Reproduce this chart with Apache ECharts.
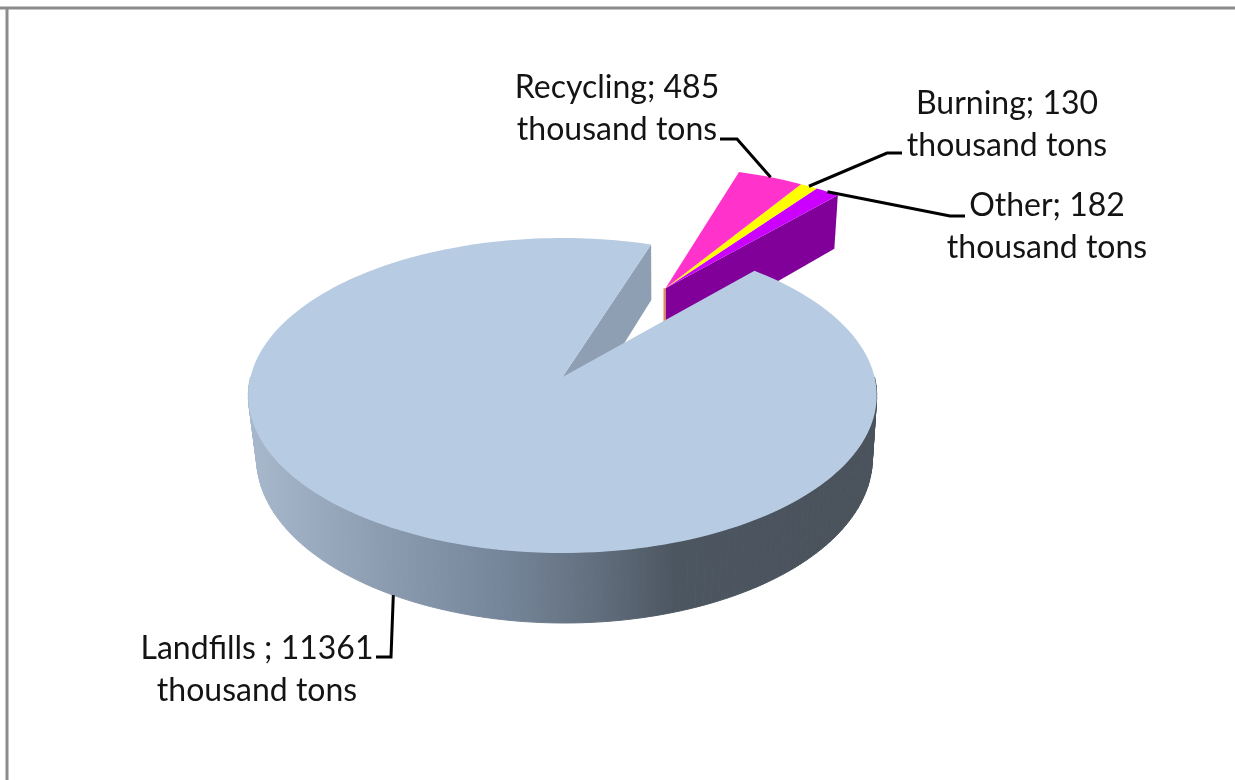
<!DOCTYPE html>
<html>
<head>
<meta charset="utf-8">
<style>html,body{margin:0;padding:0;background:#fff}#c{width:1235px;height:780px}</style>
<script src="https://cdn.jsdelivr.net/npm/echarts@6/dist/echarts.min.js"></script>
</head>
<body>
<div id="c"></div>
<script>
// Data
const categories = ['Landfills', 'Recycling', 'Burning', 'Other'];
const separators = [' ; ', '; ', '; ', '; '];
const values = [11361, 485, 130, 182];
const unit = 'thousand tons';

// Styling
const topColors = ['#b7cbe3', '#ff33cc', '#ffff00', '#cc00ff'];
const labelCenters = [[257, 670], [617, 109], [1007, 125], [1047, 227]];
const leaderElbows = [[[391, 657], [376, 657]], [[737, 139], [720, 139]], [[887, 153], [902, 153]], [[950, 216], [965, 216]]];
const explodeAmount = [0, 0.708, 0.708, 0.708];

// Projection of the tilted pie
const P = {cx: 562.5, cy: 377, rx: 312, ry: 155.3, k: 0.1175, depth: 61.8, narrow: 0.02, shift: 2};
const firstAngle = 42;
const groupMid = 30 * Math.PI / 180;
const total = values.reduce((a, b) => a + b, 0);
let acc = firstAngle;
const slices = values.map(v => { const s = acc; acc += v / total * 360; return {start: s, end: acc}; });

function project(u, v, z) {
  const w = 1 - P.k * v;
  return [P.cx + P.rx * u / w * (1 - z * P.narrow) + z * P.shift, P.cy + P.ry * v / w + z * P.depth / w];
}
function rimUV(deg, d) {
  const t = deg * Math.PI / 180;
  return [Math.sin(t) + d * Math.sin(groupMid), -Math.cos(t) - d * Math.cos(groupMid)];
}
function pt(deg, d, z) { const q = rimUV(deg, d); return project(q[0], q[1], z); }
function apex(d, z) { return project(d * Math.sin(groupMid), -d * Math.cos(groupMid), z); }
function arc(a, b, d, z) {
  const n = Math.max(2, Math.ceil(Math.abs(b - a) / 1.5)), out = [];
  for (let i = 0; i <= n; i++) out.push(pt(a + (b - a) * i / n, d, z));
  return out;
}
const sideGradient = {type: 'linear', global: true, x: 250, y: 0, x2: 876, y2: 0, colorStops: [
  {offset: 0, color: '#a8b8cc'}, {offset: 0.2, color: '#8e9eb2'}, {offset: 0.4, color: '#76869a'},
  {offset: 0.55, color: '#626f7e'}, {offset: 0.68, color: '#4c5661'}, {offset: 1, color: '#4a525b'}]};

function renderItem(params, api) {
  const i = api.value(0), s = slices[i], d = explodeAmount[i], kids = [];
  if (i === 0) {
    // only the near half of the rim shows a wall; the far half sits behind the top face
    const from = Math.max(s.start, 90), to = Math.min(s.end, 270);
    const rim = arc(from, to, 0, 0), low = arc(from, to, 0, 1);
    for (let j = 0; j < rim.length - 1; j++) {
      kids.push({type: 'polygon', shape: {points: [rim[j], rim[j + 1], low[j + 1], low[j]]},
        style: {fill: sideGradient, stroke: sideGradient, lineWidth: 1}});
    }
    kids.push({type: 'polygon', shape: {points: [apex(0, 0), pt(s.end, 0, 0), pt(s.end, 0, 1), apex(0, 1)]}, style: {fill: '#8f9fb3'}});
  }
  if (i === 3) {
    kids.push({type: 'polygon', shape: {points: [apex(d, 0), pt(s.end, d, 0), pt(s.end, d, 1), apex(d, 1)]}, style: {fill: '#800099'}});
  }
  if (i === 1) {
    const a0 = apex(d, 0), a1 = apex(d, 1);
    kids.push({type: 'line', shape: {x1: a0[0] - 1, y1: a0[1], x2: a1[0] - 1, y2: a1[1]}, style: {stroke: '#e8884a', lineWidth: 2}});
  }
  kids.push({type: 'polygon', shape: {points: [apex(d, 0)].concat(arc(s.start, s.end, d, 0))}, style: {fill: topColors[i]}});
  return {type: 'group', children: kids};
}

function renderLabel(params, api) {
  const i = api.value(0), s = slices[i], d = explodeAmount[i], mid = (s.start + s.end) / 2;
  const start = pt(mid, d, i === 0 ? 1 : 0);
  return {type: 'group', children: [
    {type: 'polyline', shape: {points: [start].concat(leaderElbows[i])}, style: {stroke: '#000', lineWidth: 3, fill: null}},
    {type: 'text', style: {x: labelCenters[i][0], y: labelCenters[i][1],
      text: categories[i] + separators[i] + api.value(1) + '\n' + unit,
      fill: '#141414', font: '32px Lato', align: 'center', verticalAlign: 'middle', lineHeight: 42}}
  ]};
}

const rows = categories.map((c, i) => ({name: c, value: [i, values[i]]}));
const chart = echarts.init(document.getElementById('c'));
chart.setOption({
  animation: false,
  backgroundColor: '#fff',
  graphic: [
    {type: 'line', shape: {x1: 0, y1: 8, x2: 1235, y2: 8}, style: {stroke: '#8c8c8c', lineWidth: 3}},
    {type: 'line', shape: {x1: 7, y1: 8, x2: 7, y2: 780}, style: {stroke: '#8c8c8c', lineWidth: 3}}
  ],
  series: [
    {type: 'custom', coordinateSystem: 'none', silent: true, renderItem: renderItem, data: rows.slice().reverse(), z: 2},
    {type: 'custom', coordinateSystem: 'none', silent: true, renderItem: renderLabel, data: rows, z: 3}
  ]
});
</script>
</body>
</html>
